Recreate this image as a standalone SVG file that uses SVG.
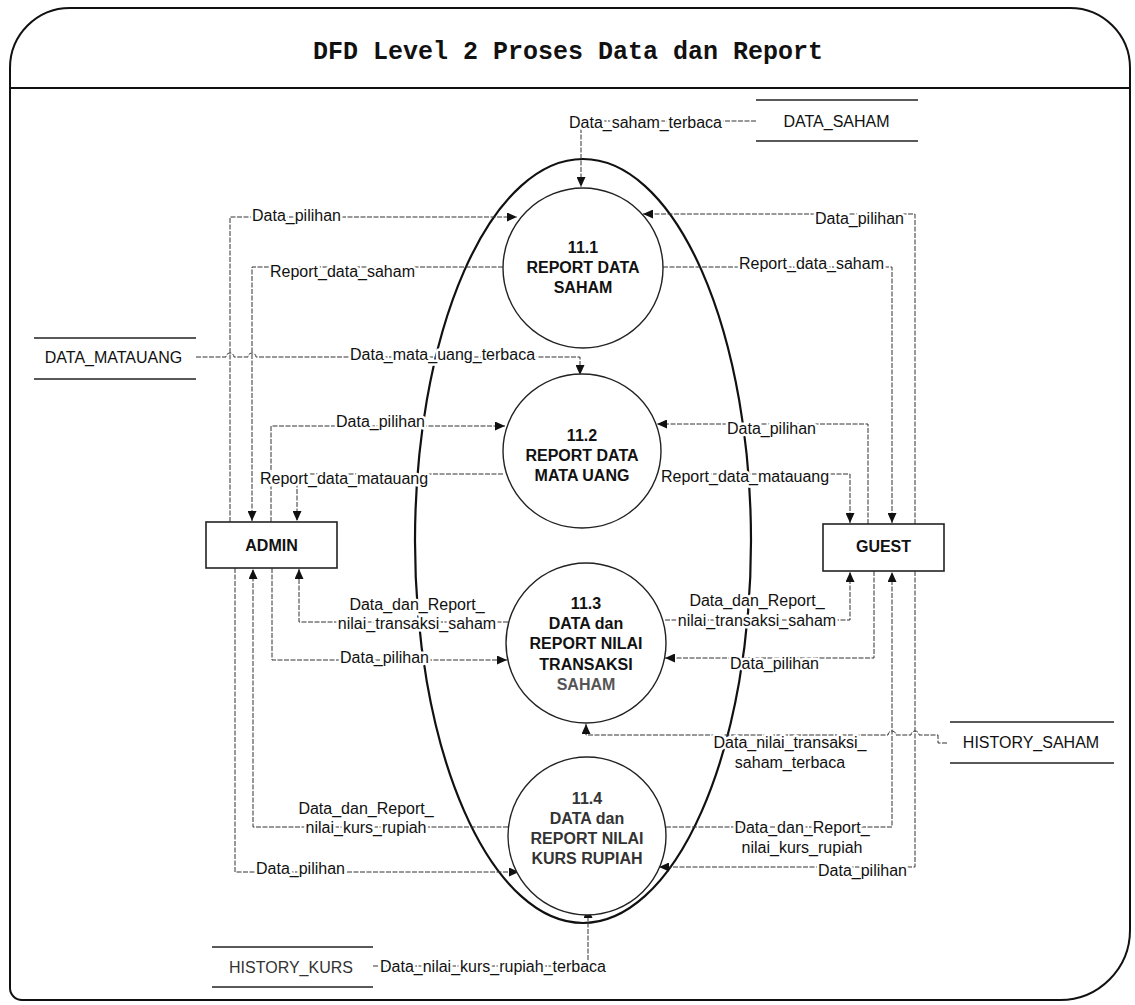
<svg xmlns="http://www.w3.org/2000/svg" width="1135" height="1005" viewBox="0 0 1135 1005">
<style>
.frame{fill:none;stroke:#111;stroke-width:2}
.title{font-family:"Liberation Mono","Courier New",monospace;font-weight:bold;font-size:25px;fill:#111}
.bound{fill:none;stroke:#111;stroke-width:2.2}
.proc{fill:#fff;stroke:#222;stroke-width:1.4}
.ptxt{font-family:"Liberation Sans",Arial,sans-serif;font-weight:bold;font-size:16px;fill:#111;text-anchor:middle}
.ent{fill:#fff;stroke:#222;stroke-width:1.6}
.store{stroke:#222;stroke-width:1.4}
.stxt{font-family:"Liberation Sans",Arial,sans-serif;font-size:16px;fill:#111;text-anchor:middle}
.flow{fill:none;stroke:#333;stroke-width:1;stroke-dasharray:5 1.5}
.lbl{font-family:"Liberation Sans",Arial,sans-serif;font-size:16px;fill:#111;paint-order:stroke;stroke:#fff;stroke-width:5px;stroke-linejoin:round}
.mid{text-anchor:middle}
</style>
<defs>
<marker id="ah" markerUnits="userSpaceOnUse" markerWidth="11" markerHeight="9" refX="10" refY="4.5" orient="auto">
<path d="M0,0 L10,4.5 L0,9 Z" fill="#111"/>
</marker>
</defs>
<rect width="1135" height="1005" fill="#fff"/>
<g id="frame">
<path class="frame" d="M10,68 A60,60 0 0 1 70,8 L1070,8 A60,60 0 0 1 1130,68 L1130,930 A70,70 0 0 1 1060,1000 L22,1000 A12,12 0 0 1 10,988 Z"/>
<line class="frame" x1="10" y1="88" x2="1130" y2="88"/>
<text class="title" x="568" y="59" text-anchor="middle">DFD Level 2 Proses Data dan Report</text>
</g>
<g id="boundary">
<ellipse class="bound" cx="583" cy="541" rx="168" ry="382"/>
</g>
<g id="connectors">
<path class="flow" d="M756,121 L581,121 L581,187" marker-end="url(#ah)"/>
<text class="lbl" x="569" y="128">Data_saham_terbaca</text>
<path class="flow" d="M230,522 L230,217 L517,217" marker-end="url(#ah)"/>
<text class="lbl" x="252" y="221">Data_pilihan</text>
<path class="flow" d="M503,267 L252,267 L252,521" marker-end="url(#ah)"/>
<text class="lbl" x="270" y="277">Report_data_saham</text>
<path class="flow" d="M915,524 L915,214 L643,214" marker-end="url(#ah)"/>
<text class="lbl" x="815" y="224">Data_pilihan</text>
<path class="flow" d="M663,267 L892,267 L892,523" marker-end="url(#ah)"/>
<text class="lbl" x="739" y="269">Report_data_saham</text>
<path class="flow" d="M196,357 L226,357 A4,4 0 0 1 234,357 L248,357 A4,4 0 0 1 256,357 L580,357 L580,375" marker-end="url(#ah)"/>
<text class="lbl" x="350" y="360">Data_mata_uang_terbaca</text>
<path class="flow" d="M271,522 L271,426 L505,426" marker-end="url(#ah)"/>
<text class="lbl" x="336" y="427">Data_pilihan</text>
<path class="flow" d="M503,474 L297,474 L297,521" marker-end="url(#ah)"/>
<text class="lbl" x="260" y="484">Report_data_matauang</text>
<path class="flow" d="M868,524 L868,424 L657,424" marker-end="url(#ah)"/>
<text class="lbl" x="727" y="434">Data_pilihan</text>
<path class="flow" d="M661,474 L850,474 L850,523" marker-end="url(#ah)"/>
<text class="lbl" x="661" y="482">Report_data_matauang</text>
<path class="flow" d="M508,622 L299,622 L299,569" marker-end="url(#ah)"/>
<text class="lbl mid" x="417" y="610">Data_dan_Report_</text>
<text class="lbl mid" x="417" y="629">nilai_transaksi_saham</text>
<path class="flow" d="M665,620 L850,620 L850,572" marker-end="url(#ah)"/>
<text class="lbl mid" x="757" y="606">Data_dan_Report_</text>
<text class="lbl mid" x="757" y="626">nilai_transaksi_saham</text>
<path class="flow" d="M272,568 L272,660 L507,660" marker-end="url(#ah)"/>
<text class="lbl" x="340" y="663">Data_pilihan</text>
<path class="flow" d="M874,571 L874,658 L665,658" marker-end="url(#ah)"/>
<text class="lbl" x="730" y="669">Data_pilihan</text>
<path class="flow" d="M947,743 L938,743 L938,735 L919,735 A4,4 0 0 0 911,735 L896,735 A4,4 0 0 0 888,735 L586,735 L586,724" marker-end="url(#ah)"/>
<text class="lbl mid" x="790" y="748">Data_nilai_transaksi_</text>
<text class="lbl mid" x="790" y="768">saham_terbaca</text>
<path class="flow" d="M508,827 L253,827 L253,569" marker-end="url(#ah)"/>
<text class="lbl mid" x="366" y="814">Data_dan_Report_</text>
<text class="lbl mid" x="366" y="833">nilai_kurs_rupiah</text>
<path class="flow" d="M235,568 L235,872 L519,872" marker-end="url(#ah)"/>
<text class="lbl" x="256" y="874">Data_pilihan</text>
<path class="flow" d="M666,827 L892,827 L892,572" marker-end="url(#ah)"/>
<text class="lbl mid" x="802" y="833">Data_dan_Report_</text>
<text class="lbl mid" x="802" y="853">nilai_kurs_rupiah</text>
<path class="flow" d="M915,571 L915,867 L659,867" marker-end="url(#ah)"/>
<text class="lbl" x="818" y="876">Data_pilihan</text>
<path class="flow" d="M373,966 L588,966 L588,908" marker-end="url(#ah)"/>
<text class="lbl" x="380" y="972">Data_nilai_kurs_rupiah_terbaca</text>
</g>
<g id="p11_1">
<circle class="proc" cx="583" cy="268" r="80"/>
<text class="ptxt" x="583" y="253">11.1</text>
<text class="ptxt" x="583" y="273">REPORT DATA</text>
<text class="ptxt" x="583" y="293">SAHAM</text>
</g>
<g id="p11_2">
<ellipse class="proc" cx="582" cy="451" rx="79" ry="77"/>
<text class="ptxt" x="582" y="441">11.2</text>
<text class="ptxt" x="582" y="461">REPORT DATA</text>
<text class="ptxt" x="582" y="481">MATA UANG</text>
</g>
<g id="p11_3">
<circle class="proc" cx="586" cy="643" r="80"/>
<text class="ptxt" x="586" y="609">11.3</text>
<text class="ptxt" x="586" y="629">DATA dan</text>
<text class="ptxt" x="586" y="649">REPORT NILAI</text>
<text class="ptxt" x="586" y="670">TRANSAKSI</text>
<text class="ptxt" x="586" y="690" style="fill:#555">SAHAM</text>
</g>
<g id="p11_4">
<circle class="proc" cx="587" cy="836" r="79"/>
<text class="ptxt" x="587" y="804" style="fill:#333">11.4</text>
<text class="ptxt" x="587" y="824" style="fill:#333">DATA dan</text>
<text class="ptxt" x="587" y="844" style="fill:#333">REPORT NILAI</text>
<text class="ptxt" x="587" y="864" style="fill:#333">KURS RUPIAH</text>
</g>
<g id="admin">
<rect class="ent" x="206" y="522" width="131" height="46"/>
<text class="ptxt" x="271.5" y="551">ADMIN</text>
</g>
<g id="guest">
<rect class="ent" x="823" y="524" width="121" height="47"/>
<text class="ptxt" x="883.5" y="552">GUEST</text>
</g>
<g id="data_saham">
<line class="store" x1="756" y1="100" x2="918" y2="100"/>
<line class="store" x1="756" y1="141" x2="918" y2="141"/>
<text class="stxt" x="836.5" y="127">DATA_SAHAM</text>
</g>
<g id="data_matauang">
<line class="store" x1="34" y1="338" x2="196" y2="338"/>
<line class="store" x1="34" y1="379" x2="196" y2="379"/>
<text class="stxt" x="113.5" y="363">DATA_MATAUANG</text>
</g>
<g id="history_saham">
<line class="store" x1="950" y1="722" x2="1114" y2="722"/>
<line class="store" x1="950" y1="763" x2="1114" y2="763"/>
<text class="stxt" x="1031" y="748">HISTORY_SAHAM</text>
</g>
<g id="history_kurs">
<line class="store" x1="212" y1="947" x2="373" y2="947"/>
<line class="store" x1="212" y1="987" x2="373" y2="987"/>
<text class="stxt" x="291" y="973" style="fill:#333">HISTORY_KURS</text>
</g>
</svg>
